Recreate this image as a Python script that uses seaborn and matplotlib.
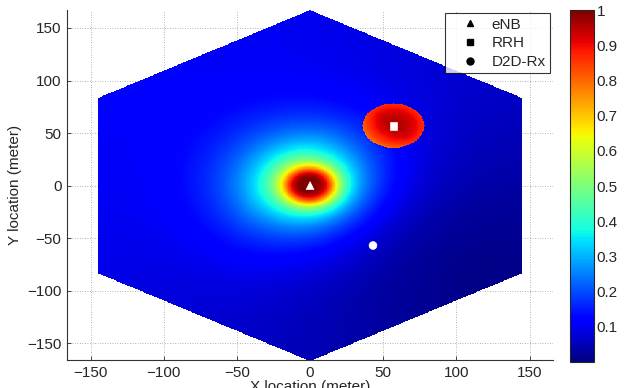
import numpy as np
import matplotlib
matplotlib.use("Agg")
import matplotlib.pyplot as plt
import seaborn as sns
import pandas as pd
from matplotlib.lines import Line2D

# ---- data ----
node_names = ["eNB", "RRH", "D2D-Rx"]
node_x = [0, 57, 43]
node_y = [0, 57, -57]
node_markers = ["^", "s", "o"]
x_ticks = [-150, -100, -50, 0, 50, 100, 150]
y_ticks = [-150, -100, -50, 0, 50, 100, 150]
cbar_ticks = [0.1, 0.2, 0.3, 0.4, 0.5, 0.6, 0.7, 0.8, 0.9, 1.0]
cbar_labels = ["0.1", "0.2", "0.3", "0.4", "0.5", "0.6", "0.7", "0.8", "0.9", "1"]
cell_radius = 167          # hexagonal cell radius (m)
rrh_radius = 21            # RRH coverage disc radius (m)
dark_spot = [110, -80]     # direction in which the background gets darkest

# ---- field model ----
gx = np.linspace(-170, 170, 681)
gy = np.linspace(-170, 170, 681)
X, Y = np.meshgrid(gx, gy)
ex, ey = node_x[0], node_y[0]
rx, ry = node_x[1], node_y[1]
d_e = np.hypot(X - ex, Y - ey)
d_r = np.hypot(X - rx, Y - ry)
d_k = np.hypot(X - dark_spot[0], Y - dark_spot[1])
d_ek = np.hypot(ex - dark_spot[0], ey - dark_spot[1])

core = 0.62 / (1 + (d_e / 18.0) ** 4)
tilt = np.clip(d_k / d_ek, 0.4, 1.2) ** 0.8
halo = 0.35 / (1 + (d_e / 48.0) ** 2.7) * tilt
bg = 0.095 * np.clip(d_k / 290.0, 0, 1) ** 1.3
V = core + halo + bg
disc = 0.96 - 0.1 * (d_r / rrh_radius) ** 2 \
    - 0.07 * np.clip(-((X - rx) + (Y - ry)) / (1.414 * rrh_radius), 0, 1)
V = np.where(d_r <= rrh_radius, np.maximum(V, disc), V)
V = np.clip(V, 0, 1)

inside = (np.abs(X) <= cell_radius * np.sqrt(3) / 2) & \
         (np.abs(X) / np.sqrt(3) + np.abs(Y) <= cell_radius)
V = np.ma.masked_where(~inside, V)

# ---- plot ----
sns.set_style("white")
plt.rcParams["font.family"] = ["Liberation Sans", "DejaVu Sans"]

fig = plt.figure(figsize=(6.27, 3.88), dpi=100)
ax = fig.add_axes([0.107, 0.072, 0.775, 0.902])

ax.set_axisbelow(True)
ax.grid(True, linestyle=(0, (1, 2)), color="#9a9a9a", linewidth=0.6)
mesh = ax.pcolormesh(gx, gy, V, cmap="jet", vmin=0, vmax=1, shading="auto",
                     rasterized=True, zorder=1)

df = pd.DataFrame({"x": node_x, "y": node_y, "name": node_names})
sns.scatterplot(data=df, x="x", y="y", style="name",
                markers=dict(zip(node_names, node_markers)),
                color="white", edgecolor="white", s=32, legend=False,
                ax=ax, zorder=3)

ax.set_xlim(-166, 166)
ax.set_ylim(-166, 167)
ax.set_xticks(x_ticks)
ax.set_yticks(y_ticks)
ax.tick_params(direction="in", length=3, width=0.6, labelsize=11,
               bottom=True, left=True, top=False, right=False, pad=4)
for s in ["top", "right"]:
    ax.spines[s].set_visible(False)
for s in ["left", "bottom"]:
    ax.spines[s].set_color("#333333")
    ax.spines[s].set_linewidth(0.8)
ax.set_xlabel("X location (meter)", fontsize=11, labelpad=0)
ax.set_ylabel("Y location (meter)", fontsize=11, labelpad=4)

handles = [Line2D([], [], linestyle="none", marker=m, color="black",
                  markersize=5, label=n) for m, n in zip(node_markers, node_names)]
leg = ax.legend(handles=handles, loc="upper right", fontsize=11,
                frameon=True, fancybox=False, borderaxespad=0.2,
                handletextpad=0.1, labelspacing=0.3, borderpad=0.3,
                handlelength=2.6)
leg.get_frame().set_edgecolor("black")
leg.get_frame().set_linewidth(0.8)
leg.set_zorder(5)

cax = fig.add_axes([0.909, 0.067, 0.038, 0.907])
cb = fig.colorbar(mesh, cax=cax, ticks=cbar_ticks)
cb.ax.set_yticklabels(cbar_labels)
cb.ax.tick_params(direction="in", length=3, width=0.6, labelsize=11, pad=2)
cb.outline.set_linewidth(0.8)

fig.savefig("out.png", dpi=100)
